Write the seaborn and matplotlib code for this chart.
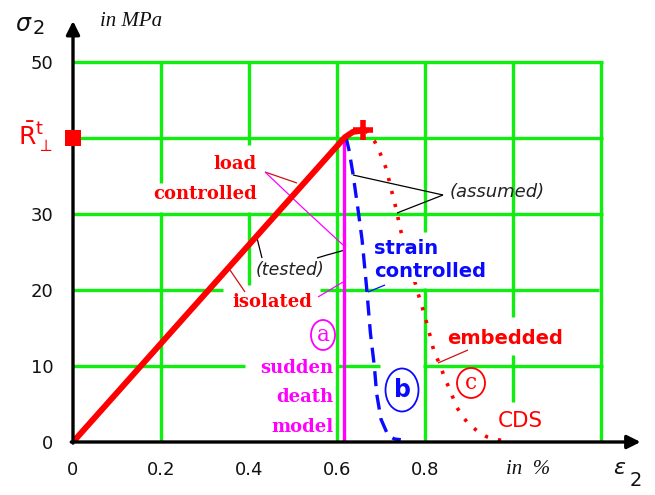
import matplotlib
matplotlib.use("Agg")
import matplotlib.pyplot as plt
import seaborn as sns
from matplotlib.patches import Ellipse

# ---------------- data ----------------
load_x = [0.0, 0.618, 0.636, 0.659]
load_y = [0.0, 40.1, 40.8, 41.0]
sudden_x = [0.615, 0.615]
sudden_y = [0.0, 40.0]
strain_x = [0.620, 0.627, 0.636, 0.648, 0.657, 0.667, 0.676, 0.685, 0.690, 0.700, 0.715, 0.730, 0.745]
strain_y = [40.2, 38.5, 35.4, 30.5, 26.6, 20.5, 14.3, 9.9, 6.4, 3.0, 1.0, 0.4, 0.3]
cds_x = [0.665, 0.686, 0.698, 0.713, 0.720, 0.736, 0.743, 0.784, 0.800, 0.811, 0.820,
         0.835, 0.845, 0.857, 0.872, 0.886, 0.902, 0.925, 0.940, 0.966, 0.993]
cds_y = [41.0, 39.5, 38.0, 35.8, 34.0, 30.3, 28.2, 19.6, 16.5, 14.1, 12.0,
         10.0, 8.4, 6.8, 4.6, 3.3, 2.2, 1.2, 0.7, 0.3, 0.0]
R_perp_t = 40
x_ticks = [0, 0.2, 0.4, 0.6, 0.8]
x_tick_labels = ["0", "0.2", "0.4", "0.6", "0.8"]
y_ticks = [0, 10, 20, 30, 50]
y_tick_labels = ["0", "10", "20", "30", "50"]

# ---------------- style ----------------
sns.set_style("white")
plt.rcParams["font.family"] = ["DejaVu Sans"]
GREEN = "#10ee10"
RED = "#ff0000"
MAG = "#ff00ff"
BLUE = "#0a0aff"

fig = plt.figure(figsize=(6.55, 4.95), dpi=100)
fig.patch.set_facecolor("white")
W, H = 655, 495
X0, Y0, PXX, PXY = 73, 442, 440.0, 7.6
ax = fig.add_axes([X0 / W, (H - Y0) / H, 1.2 * PXX / W, 50 * PXY / H])
ax.set_xlim(0, 1.2)
ax.set_ylim(0, 50)
for s in ax.spines.values():
    s.set_visible(False)


def P(xp, yp):
    """pixel position of the reference -> data coords (layout helper)"""
    return (xp - X0) / PXX, (Y0 - yp) / PXY


# grid (segmented like the reference)
hseg = {50: [(0, 1.205)], 40: [(0, 1.205)], 30: [(0, 1.205)],
        20: [(0, 0.341), (0.561, 1.195)],
        10: [(0, 0.391), (0.602, 0.698), (0.795, 1.205)]}
vseg = {0.2: [(0, 30.3), (34.1, 50)], 0.4: [(20.7, 30.3), (39.1, 50)],
        0.6: [(0, 50)], 0.8: [(0, 20.3), (27.6, 50)],
        1.0: [(5.3, 11.4), (16.4, 50)], 1.2: [(0, 50)]}
for yv, segs in hseg.items():
    for a, b in segs:
        ax.plot([a, b], [yv, yv], color=GREEN, lw=2.4, solid_capstyle="butt", zorder=1, clip_on=False)
for xv, segs in vseg.items():
    for a, b in segs:
        ax.plot([xv, xv], [a, b], color=GREEN, lw=2.4, solid_capstyle="butt", zorder=1, clip_on=False)

# axes arrows
ax.annotate("", xy=(0, 55.4), xytext=(0, -0.15), annotation_clip=False,
            arrowprops=dict(arrowstyle="-|>", lw=2.4, color="black", mutation_scale=20, shrinkA=0, shrinkB=0), zorder=6)
ax.annotate("", xy=(1.29, 0), xytext=(-0.004, 0), annotation_clip=False,
            arrowprops=dict(arrowstyle="-|>", lw=2.4, color="black", mutation_scale=20, shrinkA=0, shrinkB=0), zorder=6)

# ticks
ax.set_xticks(x_ticks, x_tick_labels)
ax.set_yticks(y_ticks, y_tick_labels)
ax.tick_params(axis="both", length=0, labelsize=13, colors="#111111")
ax.tick_params(axis="x", pad=14)
ax.tick_params(axis="y", pad=14)

# curves
sns.lineplot(x=sudden_x, y=sudden_y, ax=ax, color=MAG, lw=2.4, sort=False, estimator=None, zorder=3)
sns.lineplot(x=strain_x, y=strain_y, ax=ax, color=BLUE, lw=2.4, sort=False, estimator=None,
             linestyle=(0, (4.5, 2.6)), zorder=3)
sns.lineplot(x=cds_x, y=cds_y, ax=ax, color=RED, lw=2.6, sort=False, estimator=None,
             linestyle=(0, (0.9, 2.8)), zorder=3)
sns.lineplot(x=load_x, y=load_y, ax=ax, color=RED, lw=4.3, sort=False, estimator=None,
             solid_capstyle="round", zorder=4)
ax.plot([load_x[-1]], [load_y[-1]], marker="+", ms=15, mew=4, color=RED, zorder=4)
sns.scatterplot(x=[0], y=[R_perp_t], ax=ax, marker="s", s=120, color=RED, ec="none",
                clip_on=False, zorder=7)

# leader lines
thin = dict(lw=0.9, zorder=2, solid_capstyle="butt")
def leader(pts, color):
    xs, ys = zip(*[P(*p) for p in pts])
    ax.plot(xs, ys, color=color, **thin)

leader([(265, 172), (297, 183)], "#d01010")
leader([(265, 172), (303, 208), (343, 245)], MAG)
leader([(257, 238), (262, 258)], "black")
leader([(317, 258), (327, 255), (345, 250)], "black")
leader([(230, 270), (245, 292)], "#d01010")
leader([(318, 297), (343, 282)], MAG)
leader([(353, 175), (443, 195)], "black")
leader([(397, 213), (443, 195)], "black")
leader([(385, 285), (368, 292)], BLUE)
leader([(468, 350), (438, 363)], "#d01010")

# texts
serif_b = dict(family="DejaVu Serif", weight="bold")
ax.text(*P(257, 164), "load", color=RED, fontsize=13, ha="right", va="center", **serif_b)
ax.text(*P(257, 194), "controlled", color=RED, fontsize=13, ha="right", va="center", **serif_b)
ax.text(*P(272, 302), "isolated", color=RED, fontsize=13, ha="center", va="center", **serif_b)
for yy, word in zip([368, 397, 427], ["sudden", "death", "model"]):
    ax.text(*P(333, yy), word, color=MAG, fontsize=13, ha="right", va="center", **serif_b)
ax.text(*P(290, 270), "(tested)", color="#222222", fontsize=12.5, style="italic",
        ha="center", va="center")
ax.text(*P(497, 192), "(assumed)", color="#222222", fontsize=13, style="italic",
        ha="center", va="center")
ax.text(*P(374, 260), "strain\ncontrolled", color=BLUE, fontsize=14, weight="bold",
        ha="left", va="center", linespacing=1.3, zorder=5,
        bbox=dict(fc="white", ec="none", pad=0.5))
ax.text(*P(505, 338), "embedded", color=RED, fontsize=14, weight="bold", ha="center", va="center")
ax.text(*P(520, 421), "CDS", color=RED, fontsize=15.5, ha="center", va="center")

# circled letters
for (cx, cy, w, h, col, letter, fam, fs, wt) in [
        (323, 335, 24, 30, MAG, "a", "DejaVu Serif", 15.5, "normal"),
        (402, 390, 33, 43, BLUE, "b", "DejaVu Sans", 17, "bold"),
        (471, 383, 28, 30, RED, "c", "DejaVu Serif", 15.5, "normal")]:
    ex, ey = P(cx, cy)
    ax.add_patch(Ellipse((ex, ey), w / PXX, h / PXY, fc="white", ec=col, lw=1.3, zorder=5))
    ax.text(ex, ey, letter, color=col, fontsize=fs, family=fam, weight=wt,
            ha="center", va="center", zorder=6)

# axis labels
ax.text(*P(24, 24), r"$\sigma$", fontsize=17, ha="center", va="center", color="#111111")
ax.text(*P(39, 29), "2", fontsize=14, ha="center", va="center", color="#111111")
ax.text(*P(100, 22), "in MPa", fontsize=15, family="Liberation Serif", style="italic",
        ha="left", va="center", color="#111111")
ax.text(*P(528, 470), "in  %", fontsize=15, family="Liberation Serif", style="italic",
        ha="center", va="center", color="#111111")
ax.text(*P(620, 468), r"$\varepsilon$", fontsize=16, ha="center", va="center", color="#111111")
ax.text(*P(636, 480), "2", fontsize=14, ha="center", va="center", color="#111111")
ax.text(*P(52, 137), r"$\bar{\mathrm{R}}_{\perp}^{\mathrm{t}}$", fontsize=18, color=RED,
        ha="right", va="center")

fig.savefig("out.png", dpi=100, facecolor="white")
